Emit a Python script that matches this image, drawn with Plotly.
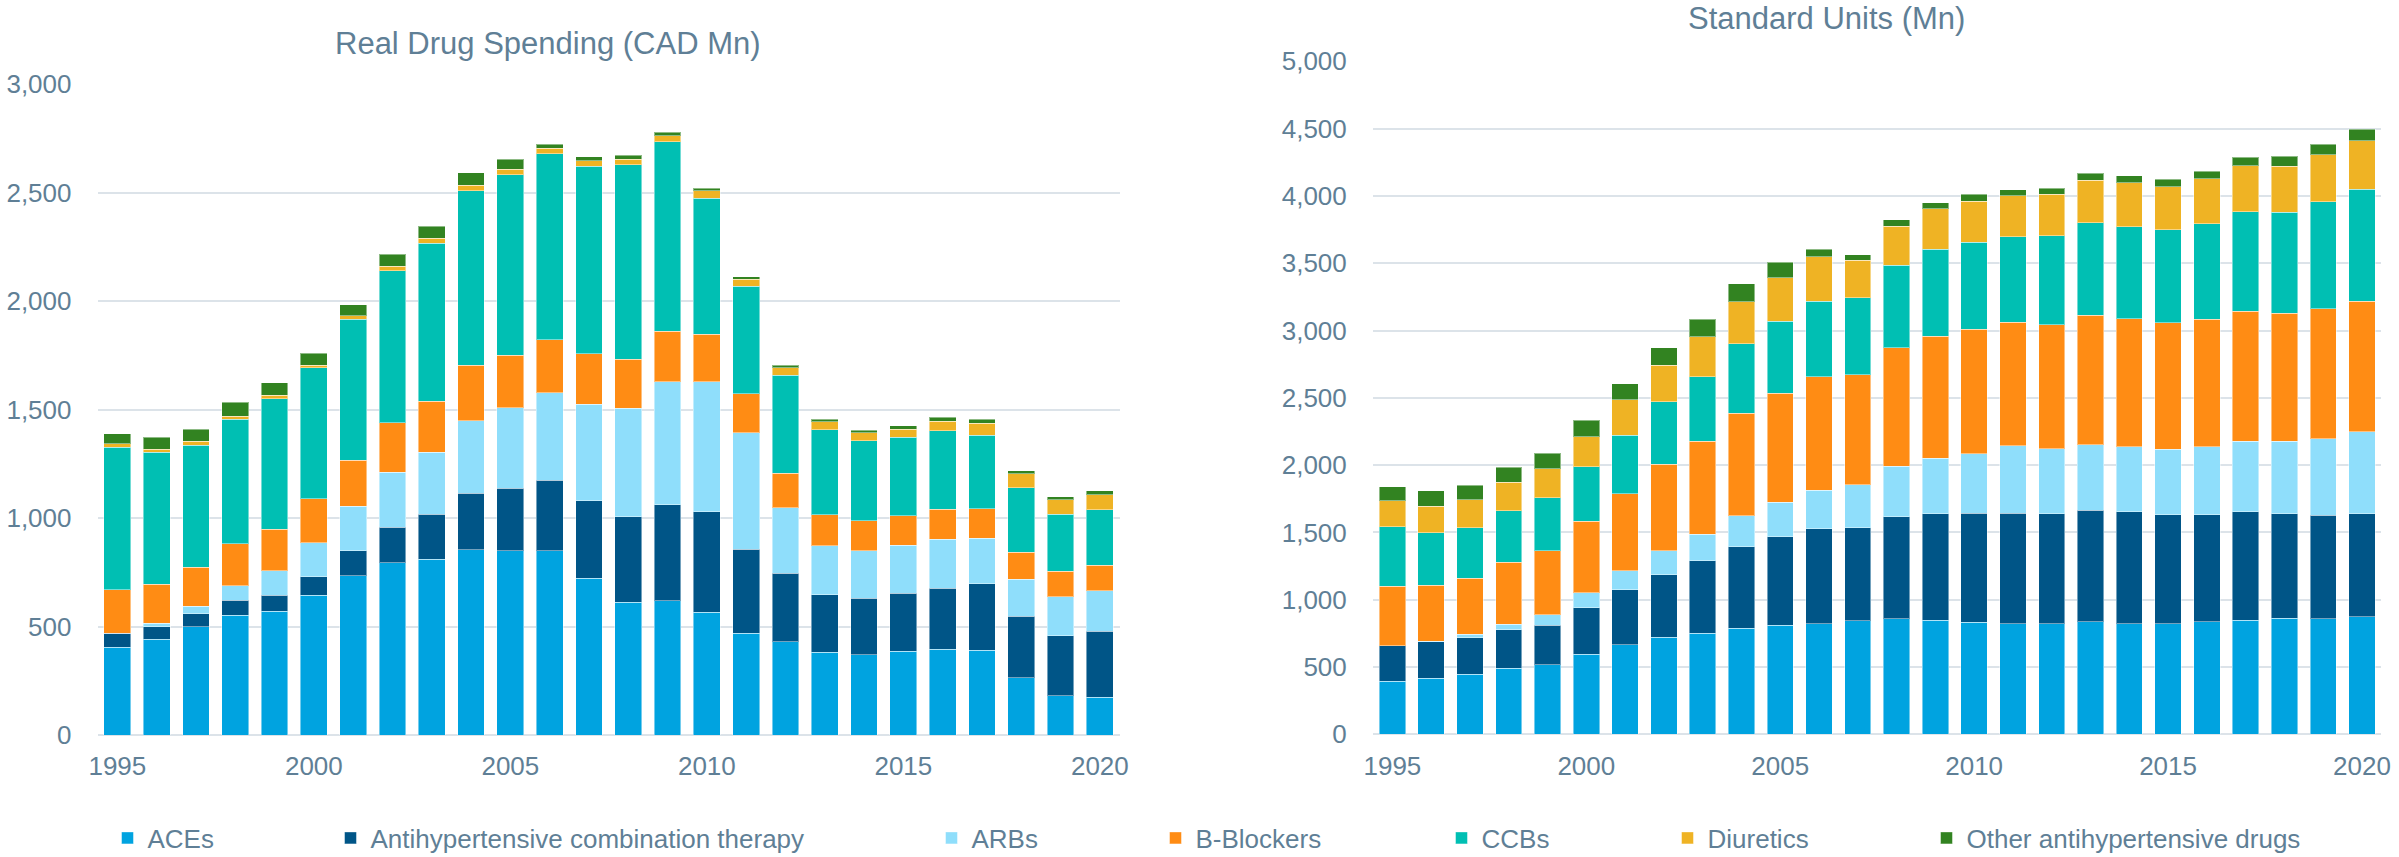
import plotly.graph_objects as go

W, H = 2399, 857


def px(x):
    return x / W


def py(y):
    return 1 - y / H


years = list(range(1995, 2021))
x_tick_years = [1995, 2000, 2005, 2010, 2015, 2020]

series_names = [
    "ACEs",
    "Antihypertensive combination therapy",
    "ARBs",
    "B-Blockers",
    "CCBs",
    "Diuretics",
    "Other antihypertensive drugs",
]
series_colors = ["#00A3E0", "#005587", "#8FDEFB", "#FF8C14", "#00BFB3", "#EFB324", "#328321"]

# Real Drug Spending (CAD Mn)
spend_aces = [405, 441, 498, 553, 571, 645, 733, 794, 811, 853, 848, 848, 722, 611, 618, 565, 470, 429, 381, 370, 386, 395, 390, 264, 180, 175]
spend_combo = [63, 57, 60, 68, 74, 85, 115, 164, 206, 260, 290, 327, 358, 394, 442, 464, 387, 316, 266, 260, 268, 282, 306, 284, 278, 304]
spend_arbs = [2, 17, 35, 66, 111, 156, 207, 254, 286, 336, 369, 403, 445, 500, 568, 599, 535, 303, 226, 219, 220, 225, 210, 169, 178, 185]
spend_bb = [200, 179, 181, 194, 193, 202, 211, 226, 236, 255, 244, 244, 232, 226, 232, 218, 181, 159, 141, 139, 137, 138, 137, 125, 118, 118]
spend_ccb = [656, 609, 562, 573, 601, 605, 651, 702, 727, 805, 831, 857, 865, 897, 873, 627, 496, 452, 393, 368, 362, 361, 338, 298, 264, 256]
spend_diur = [17, 13, 17, 16, 15, 11, 14, 21, 24, 25, 25, 26, 25, 26, 29, 34, 32, 34, 37, 36, 37, 46, 55, 63, 65, 70]
spend_other = [46, 56, 57, 64, 59, 55, 52, 54, 54, 57, 46, 17, 17, 17, 15, 12, 11, 11, 11, 13, 15, 17, 19, 14, 15, 18]

# Standard Units (Mn)
units_aces = [394, 416, 446, 490, 515, 594, 664, 721, 750, 788, 810, 820, 845, 857, 847, 832, 820, 820, 835, 820, 820, 835, 847, 862, 857, 872]
units_combo = [265, 270, 272, 285, 297, 347, 411, 465, 538, 604, 656, 706, 688, 758, 793, 812, 824, 817, 829, 834, 810, 795, 807, 775, 770, 765]
units_arbs = [0, 7, 25, 42, 75, 109, 139, 176, 200, 230, 258, 287, 322, 376, 411, 439, 498, 483, 486, 483, 488, 505, 525, 540, 570, 609]
units_bb = [441, 416, 416, 461, 475, 533, 572, 644, 689, 763, 810, 842, 817, 882, 906, 926, 919, 924, 963, 949, 941, 948, 964, 951, 963, 971]
units_ccb = [441, 389, 376, 384, 396, 406, 436, 463, 478, 515, 533, 562, 572, 611, 646, 646, 636, 661, 686, 686, 691, 711, 740, 752, 797, 832]
units_diur = [193, 198, 206, 210, 216, 223, 263, 272, 297, 312, 324, 332, 278, 292, 300, 307, 305, 307, 319, 324, 317, 334, 342, 342, 347, 359]
units_other = [107, 112, 111, 112, 114, 121, 119, 131, 131, 136, 117, 54, 42, 45, 47, 50, 42, 45, 50, 52, 55, 55, 62, 73, 79, 87]

spend_series = [spend_aces, spend_combo, spend_arbs, spend_bb, spend_ccb, spend_diur, spend_other]
units_series = [units_aces, units_combo, units_arbs, units_bb, units_ccb, units_diur, units_other]

FONT = "Liberation Sans, Arial, sans-serif"
TXT = "#5F7F96"
GRID = "#DCE3E9"

legend_ids = ["legend", "legend2", "legend3", "legend4", "legend5", "legend6", "legend7"]
legend_marker_px = [131, 354, 955, 1179, 1465, 1691, 1950]

fig = go.Figure()
for i, name in enumerate(series_names):
    fig.add_trace(go.Bar(
        x=years, y=spend_series[i], name=name,
        marker=dict(color=series_colors[i], line=dict(color="rgba(255,255,255,0.45)", width=1)),
        xaxis="x", yaxis="y", legend=legend_ids[i], legendgroup=name, showlegend=True,
    ))
    fig.add_trace(go.Bar(
        x=years, y=units_series[i], name=name,
        marker=dict(color=series_colors[i], line=dict(color="rgba(255,255,255,0.45)", width=1)),
        xaxis="x2", yaxis="y2", legendgroup=name, showlegend=False,
    ))

xcommon = dict(range=[1994.5, 2020.5], tickmode="array", tickvals=x_tick_years,
               showgrid=False, zeroline=False, showline=False,
               ticks="outside", ticklen=8, tickcolor="rgba(0,0,0,0)", automargin=False,
               tickfont=dict(family=FONT, size=26, color=TXT))
ycommon = dict(showgrid=True, gridcolor=GRID, gridwidth=2, zeroline=True, zerolinecolor=GRID,
               zerolinewidth=2, showline=False, tickformat=",d", dtick=500,
               ticks="outside", ticklen=20, tickcolor="rgba(0,0,0,0)", automargin=False,
               tickfont=dict(family=FONT, size=26, color=TXT))

layout = dict(
    width=W, height=H,
    margin=dict(l=0, r=0, t=0, b=0, pad=0, autoexpand=False),
    paper_bgcolor="white", plot_bgcolor="white",
    barmode="stack", bargap=0.32,
    font=dict(family=FONT, color=TXT),
    xaxis=dict(domain=[px(97.7), px(1119.5)], anchor="y", **xcommon),
    yaxis=dict(domain=[py(735), py(84)], range=[0, 3000], anchor="x", **ycommon),
    xaxis2=dict(domain=[px(1373), px(2381.4)], anchor="y2", **xcommon),
    yaxis2=dict(domain=[py(734.3), py(61.3)], range=[0, 5000], anchor="x2", **ycommon),
    annotations=[
        dict(text="Real Drug Spending (CAD Mn)", x=px(548), y=py(43), xref="paper", yref="paper",
             xanchor="center", yanchor="middle", showarrow=False,
             font=dict(family=FONT, size=31, color=TXT)),
        dict(text="Standard Units (Mn)", x=px(1826), y=py(18), xref="paper", yref="paper",
             xanchor="center", yanchor="middle", showarrow=False,
             font=dict(family=FONT, size=31, color=TXT)),
    ],
)
for lid, mx in zip(legend_ids, legend_marker_px):
    layout[lid] = dict(x=px(mx - 23.5), y=py(838), xanchor="left", yanchor="middle",
                       orientation="h", itemwidth=30, bgcolor="rgba(0,0,0,0)",
                       font=dict(family=FONT, size=26, color=TXT))

fig.update_layout(**layout)
fig.write_html(
    "out.html",
    config={"displayModeBar": False},
    post_script="document.body.style.margin='0';document.body.style.overflow='hidden';",
)
